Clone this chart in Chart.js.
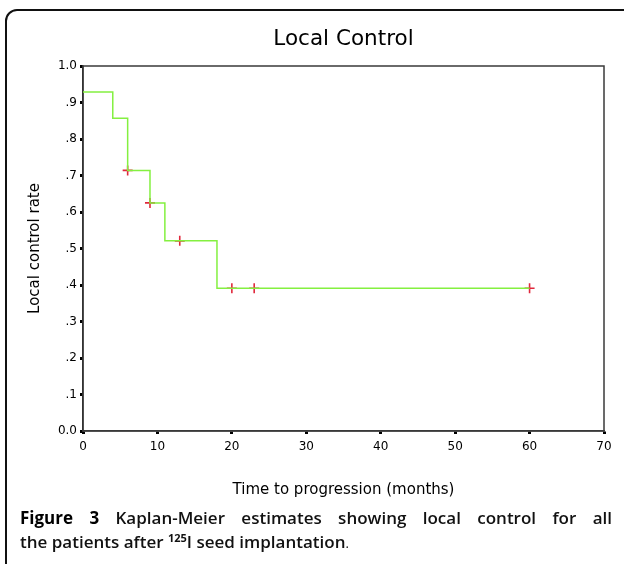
<!DOCTYPE html>
<html><head><meta charset="utf-8">
<script src="https://cdn.jsdelivr.net/npm/chart.js@4.4.1/dist/chart.umd.min.js"></script>
<style>
html,body{margin:0;padding:0;background:#fff;width:624px;height:564px;overflow:hidden;position:relative;}
#frame{position:absolute;left:5px;top:9px;width:660px;height:620px;border:2px solid #111;border-radius:12px;box-sizing:border-box;}
#wrap{position:absolute;left:0;top:0;width:624px;height:510px;}
#c{display:block;}
#title{position:absolute;left:83px;width:521px;top:24.6px;line-height:26px;text-align:center;font-family:"DejaVu Sans";font-size:21.5px;color:#000;}
.cap{position:absolute;left:20px;width:592px;font-family:"Open Sans";font-size:17px;font-weight:600;line-height:24px;color:#111;white-space:nowrap;}
.cap b{font-weight:700;color:#000;}
#cap1{top:506px;text-align:justify;text-align-last:justify;white-space:normal;}
#cap2{top:530px;}
.cap sup{font-size:11px;font-weight:700;vertical-align:6px;line-height:0;}
.small{font-size:13px;font-weight:400;}
</style></head>
<body>
<div id="frame"></div>
<div id="wrap"><canvas id="c" width="624" height="510"></canvas></div>
<div id="title">Local Control</div>
<div class="cap" id="cap1"><b>Figure 3</b> Kaplan-Meier estimates showing local control for all</div>
<div class="cap" id="cap2">the patients after <sup>125</sup>I seed implantation<span class="small">.</span></div>
<script>
// Kaplan-Meier step curve (time in months, local control rate)
const eventTimes   = [0, 4, 6, 9, 11, 18, 60];
const survivalRate = [0.929, 0.857, 0.714, 0.625, 0.521, 0.391, 0.391];
// Censored observations
const censorTimes  = [6, 9, 13, 20, 23, 60];
const censorRate   = [0.714, 0.625, 0.521, 0.391, 0.391, 0.391];
// Axis tick labels
const xTickLabels  = ['0', '10', '20', '30', '40', '50', '60', '70'];
const yTickLabels  = ['0.0', '.1', '.2', '.3', '.4', '.5', '.6', '.7', '.8', '.9', '1.0'];

const stepData = eventTimes.map((t, i) => ({x: t, y: survivalRate[i]}));
const censorData = censorTimes.map((t, i) => ({x: t, y: censorRate[i]}));

const plotFrame = {
  id: 'plotFrame',
  beforeDatasetsDraw(chart) {
    const {ctx, chartArea: a} = chart;
    ctx.save();
    ctx.strokeStyle = '#3a3a3a';
    ctx.lineWidth = 1.5;
    ctx.strokeRect(a.left, a.top, a.right - a.left, a.bottom - a.top);
    ctx.restore();
  }
};

const tickFont = {family: 'DejaVu Sans', size: 12};
const titleFont = {family: 'DejaVu Sans', size: 15};

new Chart(document.getElementById('c'), {
  type: 'scatter',
  data: {
    datasets: [
      {
        type: 'line',
        data: stepData,
        stepped: 'before',
        borderColor: '#84f040',
        borderWidth: 1.5,
        pointRadius: 0,
        fill: false
      },
      {
        type: 'scatter',
        data: censorData,
        pointStyle: 'cross',
        pointRadius: 5,
        pointBorderWidth: 1.6,
        borderColor: '#e0283c',
        backgroundColor: '#e0283c',
        showLine: false
      }
    ]
  },
  options: {
    responsive: false,
    animation: false,
    layout: {padding: {top: 66, right: 20, left: 20, bottom: 0}},
    plugins: {legend: {display: false}, tooltip: {enabled: false}, title: {display: false}},
    scales: {
      x: {
        type: 'linear', min: 0, max: 70,
        afterFit: s => { s.height = 79; },
        ticks: {stepSize: 10, font: tickFont, color: '#000', padding: 6,
                callback: (v) => xTickLabels[Math.round(v / 10)]},
        grid: {drawOnChartArea: false, drawTicks: true, tickLength: 3, tickWidth: 3, tickColor: '#000'},
        border: {display: true, color: '#3a3a3a', width: 1.5},
        title: {display: true, text: 'Time to progression (months)', font: titleFont, color: '#000', padding: {top: 0, bottom: 10.4}}
      },
      y: {
        type: 'linear', min: 0, max: 1,
        afterFit: s => { s.width = 63; },
        ticks: {stepSize: 0.1, font: tickFont, color: '#000', padding: 3,
                callback: (v) => yTickLabels[Math.round(v * 10)]},
        grid: {drawOnChartArea: false, drawTicks: true, tickLength: 3, tickWidth: 3, tickColor: '#000'},
        border: {display: true, color: '#222', width: 1.5},
        title: {display: true, text: 'Local control rate', font: titleFont, color: '#000', padding: {top: 6, bottom: 0}}
      }
    }
  },
  plugins: [plotFrame]
});
</script>
</body></html>
